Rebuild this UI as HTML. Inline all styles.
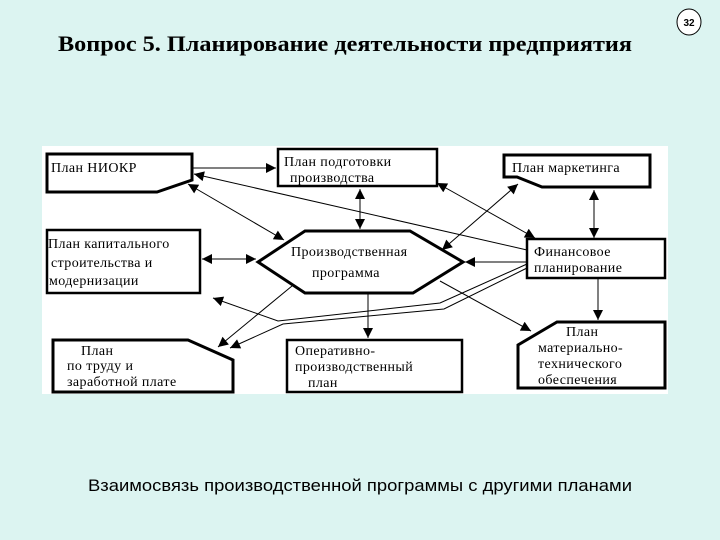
<!DOCTYPE html>
<html><head><meta charset="utf-8"><style>
html,body{margin:0;padding:0;width:720px;height:540px;overflow:hidden;background:#dcf4f1;}
svg{display:block}
.t{font-family:"Liberation Serif",serif;font-size:14px;letter-spacing:0.4px;fill:#000;}
</style></head><body>
<svg width="720" height="540" viewBox="0 0 720 540" xmlns="http://www.w3.org/2000/svg">
<defs>
<marker id="a" viewBox="0 0 10 10" refX="10" refY="5" markerWidth="12" markerHeight="10" markerUnits="userSpaceOnUse" orient="auto-start-reverse"><path d="M0,0L10,5L0,10z" fill="#000"/></marker>
</defs>
<text x="58" y="51" font-family="Liberation Serif,serif" font-weight="bold" font-size="22" textLength="574" lengthAdjust="spacingAndGlyphs">Вопрос 5.  Планирование деятельности предприятия</text>
<ellipse cx="689" cy="22" rx="12" ry="13" fill="#fff" stroke="#000" stroke-width="1"/>
<text x="689" y="26" text-anchor="middle" font-family="Liberation Sans,sans-serif" font-weight="bold" font-size="10">32</text>

<rect x="42" y="146" width="626" height="248" fill="#fff"/>

<g fill="none" stroke="#000" stroke-width="1">
<line x1="192" y1="168" x2="276" y2="168" marker-end="url(#a)"/>
<line x1="527" y1="250" x2="194" y2="174" marker-end="url(#a)"/>
<line x1="188" y1="184" x2="284" y2="240" marker-start="url(#a)" marker-end="url(#a)"/>
<line x1="360" y1="189" x2="360" y2="229" marker-start="url(#a)" marker-end="url(#a)"/>
<line x1="437" y1="183" x2="535" y2="238" marker-start="url(#a)" marker-end="url(#a)"/>
<line x1="518" y1="184" x2="442" y2="250" marker-start="url(#a)" marker-end="url(#a)"/>
<line x1="594" y1="190" x2="594" y2="238" marker-start="url(#a)" marker-end="url(#a)"/>
<line x1="527" y1="262" x2="465" y2="262" marker-end="url(#a)"/>
<line x1="202" y1="259" x2="256" y2="259" marker-start="url(#a)" marker-end="url(#a)"/>
<line x1="598" y1="278" x2="598" y2="320" marker-end="url(#a)"/>
<line x1="440" y1="281" x2="531" y2="331" marker-end="url(#a)"/>
<line x1="368" y1="293" x2="368" y2="338" marker-end="url(#a)"/>
<line x1="292" y1="286" x2="218" y2="347" marker-end="url(#a)"/>
<polyline points="527,264 440,303 278,321 213,298" marker-end="url(#a)"/>
<polyline points="527,268 444,309 283,324 230,348" marker-end="url(#a)"/>
</g>

<g fill="#fff" stroke="#000" stroke-width="3">
<polygon points="47,154 192,154 192,180 157,192 47,192"/>
<rect x="278" y="149" width="159" height="37" stroke-width="2.5"/>
<polygon points="504,155 650,155 650,187 542,187 517,177 504,177"/>
<rect x="47" y="230" width="153" height="63" stroke-width="2.5"/>
<polygon points="305,231 410,231 463,262 413,293 305,293 258,262"/>
<rect x="527" y="239" width="138" height="39" stroke-width="2.5"/>
<polygon points="557,322 665,322 665,388 518,388 518,345"/>
<polygon points="53,340 188,340 233,360 233,392 53,392"/>
<rect x="287" y="340" width="175" height="52" stroke-width="2.5"/>
</g>

<text class="t" x="51" y="172">План  НИОКР</text>
<text class="t" x="284" y="166">План подготовки</text>
<text class="t" x="290" y="182">производства</text>
<text class="t" x="512" y="172">План маркетинга</text>
<text class="t" x="48" y="248">План капитального</text>
<text class="t" x="51" y="267">строительства и</text>
<text class="t" x="49" y="285">модернизации</text>
<text class="t" x="291" y="256">Производственная</text>
<text class="t" x="312" y="277">программа</text>
<text class="t" x="534" y="256">Финансовое</text>
<text class="t" x="534" y="272">планирование</text>
<text class="t" x="566" y="336">План</text>
<text class="t" x="538" y="352">материально-</text>
<text class="t" x="538" y="368">технического</text>
<text class="t" x="538" y="384">обеспечения</text>
<text class="t" x="81" y="355">План</text>
<text class="t" x="67" y="370">по труду и</text>
<text class="t" x="67" y="386">заработной плате</text>
<text class="t" x="295" y="355">Оперативно-</text>
<text class="t" x="295" y="371">производственный</text>
<text class="t" x="308" y="387">план</text>

<text x="88" y="491" font-family="Liberation Sans,sans-serif" font-size="17" textLength="544" lengthAdjust="spacingAndGlyphs">Взаимосвязь производственной программы с другими планами</text>
</svg>
</body></html>
